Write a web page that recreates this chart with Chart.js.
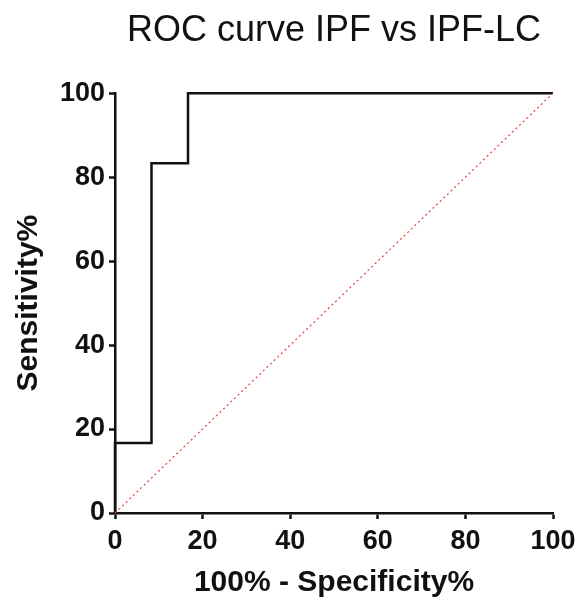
<!DOCTYPE html>
<html>
<head>
<meta charset="utf-8">
<script src="https://cdn.jsdelivr.net/npm/chart.js@4"></script>
<style>
  html, body { margin: 0; padding: 0; background: #fff; }
  #roc { display: block; }
</style>
</head>
<body>
<canvas id="roc" width="577" height="601"></canvas>
<script>
// ROC step curve (100% - specificity, sensitivity)
const rocX = [0, 0, 8.33, 8.33, 16.67, 16.67, 100];
const rocY = [0, 16.67, 16.67, 83.33, 83.33, 100, 100];
// reference diagonal
const diagX = [0, 100];
const diagY = [0, 100];
const tickValues = [0, 20, 40, 60, 80, 100];

const FONT = "'Liberation Sans', Arial, sans-serif";

const toPoints = (xs, ys) => xs.map((x, i) => ({ x: x, y: ys[i] }));

const ctx = document.getElementById('roc').getContext('2d');
new Chart(ctx, {
    type: 'scatter',
    data: {
        datasets: [
            {
                data: toPoints(diagX, diagY),
                showLine: true,
                borderColor: '#e8403c',
                borderWidth: 1.2,
                borderDash: [2, 3],
                pointRadius: 0,
                clip: false
            },
            {
                data: toPoints(rocX, rocY),
                showLine: true,
                borderColor: '#111',
                borderWidth: 2.5,
                pointRadius: 0,
                clip: false
            }
        ]
    },
    options: {
        responsive: false,
        animation: false,
        layout: { padding: { top: 0, right: 24, bottom: 0, left: 0 } },
        plugins: {
            legend: { display: false },
            tooltip: { enabled: false },
            title: {
                display: true,
                text: 'ROC curve IPF vs IPF-LC',
                fullSize: false,
                color: '#111',
                font: { family: FONT, size: 36, weight: 'normal', lineHeight: 1.2 },
                padding: { top: 9, bottom: 41 }
            }
        },
        scales: {
            x: {
                type: 'linear',
                min: 0,
                max: 100,
                afterFit: scale => {
                    scale.height = 88;
                    scale.paddingLeft = 0;
                    scale.paddingRight = 0;
                },
                afterBuildTicks: scale => { scale.ticks = tickValues.map(v => ({ value: v })); },
                grid: { drawOnChartArea: false, tickLength: 6, tickWidth: 2.5, tickColor: '#111' },
                border: { display: true, color: '#111', width: 2.5 },
                ticks: {
                    color: '#111',
                    padding: 6,
                    maxRotation: 0,
                    font: { family: FONT, size: 27, weight: 'bold' }
                },
                title: {
                    display: true,
                    text: '100% - Specificity%',
                    color: '#111',
                    font: { family: FONT, size: 30, weight: 'bold', lineHeight: 1.2 },
                    padding: { top: 0, bottom: 0 }
                }
            },
            y: {
                type: 'linear',
                min: 0,
                max: 100,
                afterFit: scale => {
                    scale.width = 115;
                    scale.paddingTop = 0;
                    scale.paddingBottom = 0;
                },
                afterBuildTicks: scale => { scale.ticks = tickValues.map(v => ({ value: v })); },
                grid: { drawOnChartArea: false, tickLength: 6, tickWidth: 2.5, tickColor: '#111' },
                border: { display: true, color: '#111', width: 2.5 },
                ticks: {
                    color: '#111',
                    padding: 4,
                    font: { family: FONT, size: 27, weight: 'bold' }
                },
                title: {
                    display: true,
                    text: 'Sensitivity%',
                    color: '#111',
                    font: { family: FONT, size: 30, weight: 'bold', lineHeight: 1.2 },
                    padding: { top: 11, bottom: 0 }
                }
            }
        }
    }
});
</script>
</body>
</html>
